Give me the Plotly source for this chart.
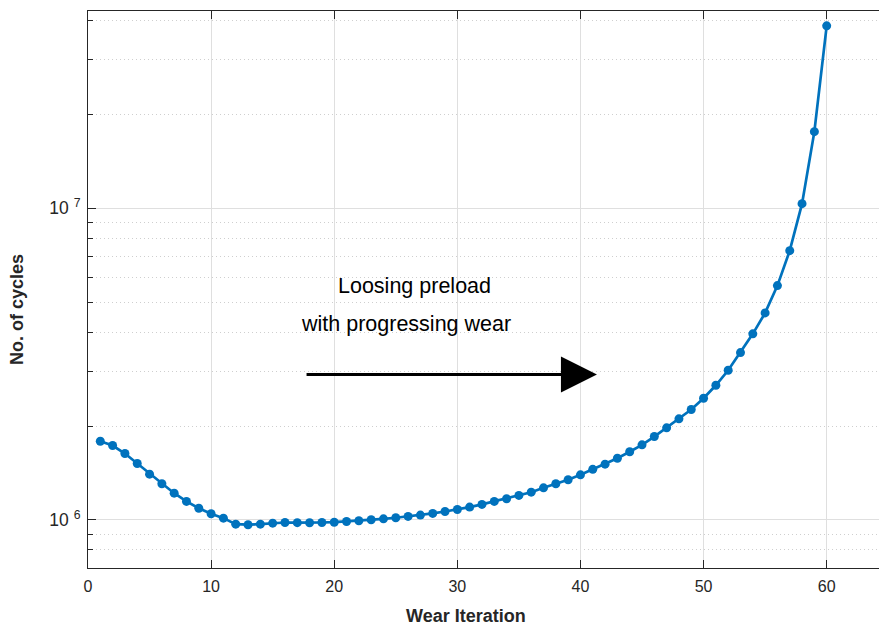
import numpy as np
import plotly.graph_objects as go

# Data
wear_iteration = list(range(1, 61))
cycles = [
    1.787e6, 1.731e6, 1.632e6, 1.516e6, 1.401e6, 1.305e6, 1.217e6, 1.145e6, 1.089e6, 1.045e6,
    1.012e6, 0.968e6, 0.964e6, 0.968e6, 0.975e6, 0.980e6, 0.979e6, 0.978e6, 0.980e6, 0.982e6,
    0.987e6, 0.993e6, 1.000e6, 1.007e6, 1.015e6, 1.025e6, 1.035e6, 1.048e6, 1.063e6, 1.079e6,
    1.098e6, 1.120e6, 1.145e6, 1.168e6, 1.197e6, 1.226e6, 1.266e6, 1.305e6, 1.344e6, 1.394e6,
    1.452e6, 1.508e6, 1.576e6, 1.653e6, 1.740e6, 1.850e6, 1.973e6, 2.109e6, 2.259e6, 2.455e6,
    2.703e6, 3.020e6, 3.441e6, 3.952e6, 4.615e6, 5.646e6, 7.311e6, 1.035e7, 1.762e7, 3.853e7,
]

x_tickvals = [0, 10, 20, 30, 40, 50, 60]
y_tickvals = [1e6, 1e7]
y_ticktext = ["10 <sup>6</sup>", "10 <sup>7</sup>"]
y_minorvals = [8e5, 9e5] + [k * 1e6 for k in range(2, 10)] + [2e7, 3e7, 4e7]

annotation_lines = ["Loosing preload", "with progressing wear"]
x_title = "Wear Iteration"
y_title = "No. of cycles"

FONT = "Liberation Sans, Arial, sans-serif"
AX = "#262626"
GRID = "#dfdfdf"

fig = go.Figure()
fig.add_trace(go.Scatter(
    x=wear_iteration, y=cycles, mode="lines+markers",
    line=dict(color="#0072BD", width=2.7),
    marker=dict(color="#0072BD", size=9),
    showlegend=False,
))

fig.update_layout(
    width=879, height=628,
    margin=dict(l=88, r=0, t=11, b=60),
    paper_bgcolor="white", plot_bgcolor="white",
    font=dict(family=FONT, color=AX, size=16),
    xaxis=dict(
        range=[0, 64.25], tickvals=x_tickvals,
        showline=True, linecolor=AX, linewidth=1, mirror="ticks",
        ticks="inside", ticklen=8, tickcolor=AX, tickwidth=1,
        showgrid=True, gridcolor=GRID, gridwidth=1, zeroline=False,
        tickfont=dict(size=16, color=AX), ticklabelstandoff=4,
    ),
    yaxis=dict(
        type="log", range=[np.log10(7.0e5), np.log10(4.3e7)],
        tickmode="array", tickvals=y_tickvals, ticktext=y_ticktext,
        showline=True, linecolor=AX, linewidth=1, mirror=False,
        ticks="inside", ticklen=8, tickcolor=AX, tickwidth=1,
        showgrid=True, gridcolor=GRID, gridwidth=1, zeroline=False,
        tickfont=dict(size=17.5, color=AX), ticklabelstandoff=3,
        minor=dict(tickmode="array", tickvals=y_minorvals, ticks="inside", ticklen=5,
                   tickcolor=AX, showgrid=True, gridcolor="#cfcfcf", griddash="1px,3px", gridwidth=1),
    ),
)

# Axis titles
fig.add_annotation(text="<b>%s</b>" % x_title, xref="paper", yref="paper", x=0.4785, y=-0.0869,
                   showarrow=False, font=dict(size=18, color=AX, family=FONT), xanchor="center", yanchor="middle")
fig.add_annotation(text="<b>%s</b>" % y_title, xref="paper", yref="paper", x=-0.0891, y=0.4643,
                   textangle=-90, showarrow=False, font=dict(size=18, color=AX, family=FONT),
                   xanchor="center", yanchor="middle")

# Text annotation
fig.add_annotation(text=annotation_lines[0], x=26.56, y=6.752, xref="x", yref="y", showarrow=False,
                   font=dict(size=21.5, color="black", family=FONT))
fig.add_annotation(text=annotation_lines[1], x=25.81, y=6.630, xref="x", yref="y", showarrow=False,
                   font=dict(size=21.5, color="black", family=FONT))

# Arrow
fig.add_annotation(x=41.34, y=6.466, ax=17.63, ay=6.466, xref="x", yref="y", axref="x", ayref="y",
                   text="", showarrow=True, arrowhead=2, arrowsize=2.4, arrowwidth=3, arrowcolor="black")

fig.write_html("out.html", config={"displayModeBar": False},
               post_script="document.body.style.margin='0';document.body.style.overflow='hidden';")
